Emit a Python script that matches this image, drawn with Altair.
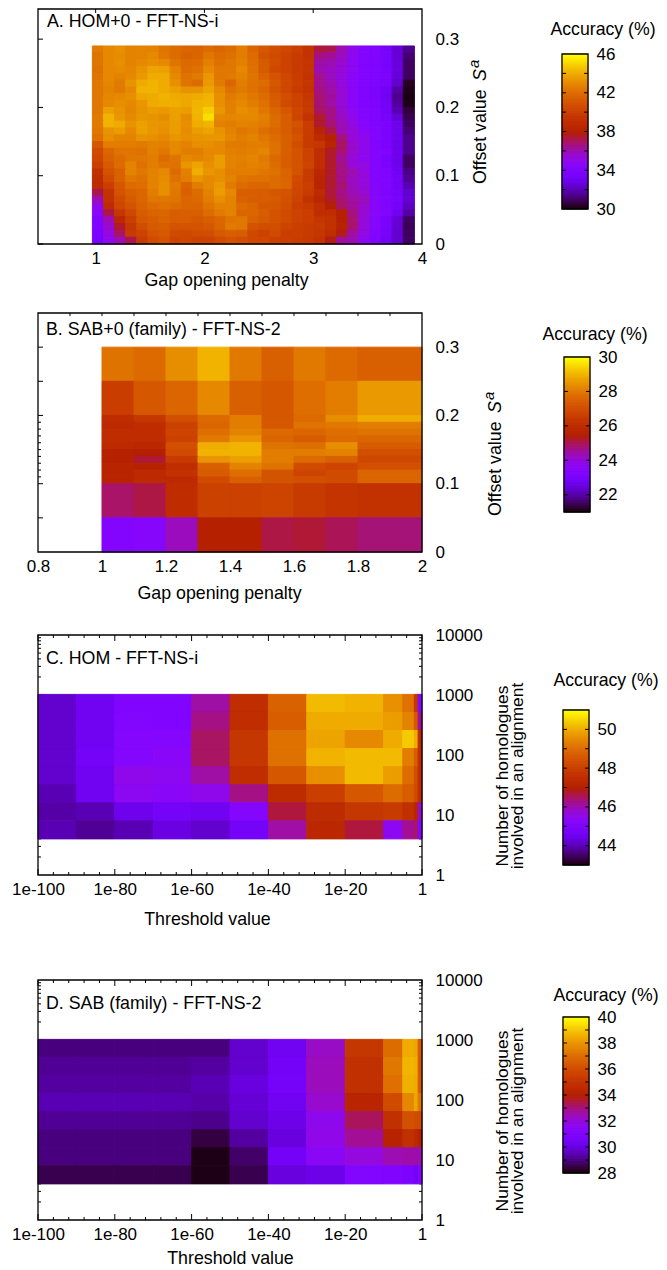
import math
import numpy as np
import pandas as pd
import altair as alt

FONT = "Liberation Sans"

# ---------- data ----------
A_rows = [
[42.5,43,43.2,42.8,42.8,42.8,42.3,42,41.8,41.7,42,41.8,42,42.6,41.8,41.2,40.8,40.4,40,39.4,37.4,37.2,36,35,34.3,34,33.5,32.5,31.5],
[42.3,43,43.1,42.8,42.8,43,42.4,42,41.6,41.7,42.4,42,42.2,42.6,42,41,40.6,40.2,39.8,39.4,36.6,36.4,35.8,34.8,34.2,34,33.6,32.6,31.2],
[42.3,43,43.2,42.8,43,43.2,43,42.3,41.9,42,42.7,42.2,42.4,42.7,42.1,41.3,40.8,40.2,39.8,39.5,36.2,36,35.6,34.8,34.2,34,33.7,32.7,31],
[42.2,43,43.1,42.9,43.3,43.8,43.7,42.8,42,42.2,43,42.4,42.4,43,42.2,41.3,40.5,40.2,39.8,39.5,36,35.8,35.4,34.8,34.2,34,33.7,32.7,31],
[42.3,43,42.8,43,43.5,44,44,43,42.2,42.5,43.4,42.4,42.5,42.8,42.3,41.6,41,40.4,39.9,39.4,36.5,35.8,35.3,34.6,34.2,34,33.8,32.6,31],
[42.4,42.9,42.5,43.3,44,44.2,44,43.2,42.3,42,43.5,42.5,41.8,42.6,42.2,42,41.2,40.5,40,39.5,36.5,36,35.3,34.6,34.1,33.9,33.6,32.4,30.4],
[42.4,42.8,42.5,43,44.2,44.2,44,43.7,43.3,43.3,43.8,43,42.2,42.5,42.2,41.8,41,40.4,39.8,39.4,36.6,36.2,35.5,34.6,34,33.8,33.3,31.8,30.2],
[42.4,42.9,43,43.2,43.9,44,44.2,44,43.9,44,44.2,43.2,42.5,42.8,42.4,42,41.3,40.8,40.2,39.6,36.8,36.3,35.5,34.6,34,33.8,33.2,31.5,30],
[42.4,43,43.2,43,43.4,44,44.1,44.1,43.9,44.2,44.3,43.2,42.7,43,42.6,42.2,41.4,40.6,40.2,39.7,36.8,36.2,35.5,34.6,34,33.9,33.4,31.7,30.2],
[42.4,43.7,43.3,42.9,43.3,43.6,43.5,43.7,43.6,44.3,44.9,43.4,42.7,43.2,43,42.4,41.8,41.2,40.4,39.8,37,36.6,35.6,34.8,34.2,34,33.4,32,30.6],
[42.5,44.2,43.4,43,43.4,43.3,43.1,43.7,43.1,44.2,45.3,43,42.9,43,43,42.7,42,41.4,40.3,39.4,37.6,36.6,35.8,35,34.3,34,33.5,32.6,30.8],
[42.5,44.2,44,43.3,43.7,43.4,43.3,43.6,43.2,44,44.2,42.7,42.6,42.8,42.7,42.5,42,41.4,41,39.9,37.6,36.8,36,35.2,34.4,34,33.8,33,31],
[42.4,43.3,43.6,43,43.7,43.4,43.2,43.6,43.1,43.6,43.8,43.3,42.8,42.4,42.6,42.1,41.8,41.4,40.8,39.9,38.4,37.3,36,35.4,34.6,34.2,33.8,33,31.2],
[42.2,43.2,42.8,42.8,43.3,43.2,43,43.4,43.2,43.3,43.4,43.4,42.9,42.6,42.8,42.4,42,41.5,41,39.8,38.8,38.2,36.7,35.4,35,34.3,33.8,33,31.5],
[41.2,42.6,42.6,42.6,42.5,42.8,42.7,43,42.8,43.2,43.2,43,42.5,42.5,42.6,42.6,42.2,41.5,40.8,39.8,39.6,38.5,37,35.6,35,34.3,33.8,33,31.5],
[40.6,41.8,42.3,42.3,42.2,42.7,42.4,43,42.6,42.6,43,43,42.7,42.6,42.7,42.9,42.2,41.5,41,40.2,39,37.6,36.8,35.6,35,34.3,34,33,31.5],
[40.4,41.6,42,42.4,42.4,42.6,42,42.3,43,42.8,43,43.6,42.8,42.7,42.9,42.5,41.9,41.4,41,40.2,39,37.6,36.4,35.4,34.9,34.3,33.7,33,31],
[40,41.3,42,42.8,42.2,42.6,42.3,42.2,43.4,43.8,43.2,43.6,42.8,42.6,42.8,42.6,42,41.4,41,40.3,39,37.6,36.6,35.4,35.2,34.3,33.8,33,31],
[39.2,41,41.6,42.8,42.4,42.8,43,42,42.7,44.1,43.4,43.2,42.6,42.6,42.6,42.4,42.2,41.7,41,39.8,38.6,37.6,36.6,36,35.3,34.3,34,33.2,31.4],
[38.9,40.6,41.6,42.4,42.2,42.8,43.1,42.2,42.6,43.4,43,43.2,42.8,42.3,42.2,42.2,42,41.7,40.6,39.8,38.4,37.5,36.6,35.8,35.4,34.3,34,33.4,31.6],
[38.8,40,41.2,42,42.1,42.8,43.2,42.5,41.7,42.6,43,43.5,42.5,42,41.8,41.8,42,41.8,40.5,40,38.4,37.5,36.8,35.8,35.4,34.5,34,33.4,32],
[37.2,39.4,41,41.6,41.8,42.6,43.2,42.4,41.6,42,42.8,43.6,43,41.5,41.4,41.4,41.2,41,40.4,39.8,38.8,37.4,36.6,36,35.6,34.4,33.9,33.5,32.4],
[36,39.3,40.6,41.3,41.8,42.4,42.4,42.3,41.8,41.9,42.6,43.2,42.8,41.6,41.4,41.4,41.3,40.9,40.2,39.3,38.5,37.6,36.8,36.2,35.9,34.5,34,33.6,32.5],
[35,38.8,40.4,41,41.6,42,42.2,42,41.8,41.7,42.3,42.8,42.8,42,41.7,41.2,41.2,40.8,40,39.7,39,38,37,36.4,35.6,34.5,34,33.4,32.2],
[34.6,37.3,39.6,40.5,41.4,41.7,41.8,41.4,41.5,41.5,42,42.5,42.8,41.8,41.8,41.4,41,40.6,40.2,40,39,39,38.2,36.6,35.5,34.6,34.2,33.2,31.8],
[34,36,38.6,40,41.2,41.4,41.7,41.4,41.4,41.2,41.5,41.8,42.3,42.4,41.6,41.3,41,40.6,40.2,40,39.5,39.3,38.2,36.8,35.4,34.4,33.6,32.5,31],
[34,35.6,37.6,39.6,40.8,41.3,41.4,41,41,41,41.2,41.7,42.5,42.4,41,40.8,40.8,40.3,40,39.8,39.7,39.3,38.3,36.8,35.4,34.5,33.6,32.5,30.9],
[33.8,35.3,37,39.8,40.2,41,41.3,40.6,40.5,40.7,40.8,41.3,41.5,41.4,40.5,40.2,40.6,40,40,39.8,39.6,39,37.8,36.2,35.2,34.3,33.5,32.4,31],
[33.6,35,36,37.2,39.8,40.6,41,40.3,40.4,40.2,40.2,40.6,41,40.8,40.5,40.4,40,40,39.9,39.7,39.4,37.8,36.3,36,34.8,34,33.3,32.4,31],
]
A_x_edges = [round(0.97 + i * 2.96 / 29, 4) for i in range(30)]
A_y_edges = [round(0.29 - i * 0.01, 2) for i in range(30)]

B_rows = [
[27.9,27.7,28.4,29.0,28.0,27.5,28.0,27.7,27.5],
[26.6,27.3,27.6,28.3,27.5,27.3,27.8,28.1,28.6],
[26.0,26.4,27.1,27.7,28.1,27.3,27.7,28.4,28.9],
[25.9,26.0,26.7,27.6,28.1,27.3,27.9,28.0,28.1],
[26.0,26.0,26.8,27.8,28.2,27.7,27.6,27.8,27.9],
[26.0,26.0,26.7,28.0,28.5,27.6,27.4,27.7,27.6],
[25.9,25.8,27.1,28.9,29.0,27.9,27.8,28.4,27.4],
[25.6,25.5,27.0,29.0,29.0,28.1,28.1,28.2,27.1],
[25.6,25.2,26.5,28.5,28.7,28.1,27.7,27.5,26.9],
[25.7,25.6,26.1,27.5,28.2,27.9,27.0,26.8,27.1],
[25.7,25.9,26.2,27.4,27.8,27.2,26.8,27.0,27.6],
[25.7,25.9,25.9,27.0,27.5,27.2,27.1,27.0,27.6],
[24.9,25.1,26.0,26.7,26.7,26.8,26.5,26.3,26.2],
[23.4,23.5,24.3,25.5,25.5,25.1,25.2,25.0,24.8],
]
B_x_edges = [1.0,1.1,1.2,1.3,1.4,1.5,1.6,1.7,1.8,2.0]
B_y_edges = [0.30,0.25,0.20,0.19,0.18,0.17,0.16,0.15,0.14,0.13,0.12,0.11,0.10,0.05,0.0]

C_rows = [
[44.2,44.6,45.0,45.0,46.1,47.5,48.8,50.2,50.1,49.6,49.1,47.8,45.2],
[44.2,44.6,45.1,45.0,46.3,47.5,48.7,50.0,50.0,49.8,49.4,48.6,46.2],
[44.2,44.6,45.2,45.2,46.5,47.8,49.1,49.9,49.5,50.0,50.4,50.0,47.4],
[44.2,44.7,45.2,45.3,46.5,47.8,49.1,50.1,50.2,50.2,49.3,48.7,47.5],
[44.2,44.6,45.5,45.4,46.1,47.5,48.6,49.6,50.2,49.8,49.0,48.4,47.5],
[44.0,44.6,45.4,45.3,45.5,46.3,47.4,48.0,48.6,49.0,48.7,48.3,47.5],
[43.9,44.0,44.5,44.7,44.6,45.2,46.7,47.4,47.8,47.9,47.6,47.2,45.8],
[44.0,43.8,44.0,44.4,44.2,44.7,46.1,47.3,46.7,45.4,46.2,46.5,45.0],
]
D_rows = [
[29.0,29.0,29.0,29.0,29.0,29.8,30.4,32.3,35.2,37.0,38.5,38.4,36.5],
[29.2,29.2,29.2,29.2,29.3,29.8,30.5,32.4,34.9,37.3,38.7,38.6,36.4],
[29.3,29.3,29.3,29.3,29.5,30.0,30.6,32.4,34.9,37.1,38.6,38.5,36.5],
[29.5,29.5,29.5,29.5,29.4,29.9,30.4,32.2,34.3,36.0,37.7,38.4,37.3],
[29.2,29.2,29.2,29.2,29.1,29.8,30.2,31.7,33.3,34.9,36.2,36.0,36.0],
[29.0,29.0,29.0,29.0,28.5,29.3,30.0,31.8,32.8,34.2,34.9,34.5,34.0],
[29.0,29.0,29.0,29.0,28.1,28.8,30.5,31.5,32.0,32.5,32.6,32.6,32.5],
[28.6,28.6,28.6,28.6,28.1,28.6,30.0,30.2,31.1,31.0,30.9,30.5,31.0],
]
thr_edges = [-100,-90,-80,-70,-60,-50,-40,-30,-20,-10,-5,-2,-1,0]
hom_edges = [1024,512,256,128,64,32,16,8,4]

WIDTH = 384
SIDE = 172          # second column (gap + colour bar)
ONE = pd.DataFrame({"a": [0]})


# gnuplot default pm3d palette (rgbformulae 7,5,15)
def palette(n=65):
    out = []
    for i in range(n):
        x = i / (n - 1)
        r = math.sqrt(x)
        g = x ** 3
        b = max(0.0, math.sin(2 * math.pi * x))
        out.append("#%02x%02x%02x" % (round(r * 255), round(g * 255), round(b * 255)))
    return out


PAL = palette()


def color_scale(lo, hi):
    return alt.Scale(domain=[float(d) for d in np.linspace(lo, hi, len(PAL))], range=PAL)


def cells(rows, xe, ye):
    rec = []
    for j, row in enumerate(rows):
        for i, v in enumerate(row):
            rec.append({"x0": xe[i], "x1": xe[i + 1], "y0": ye[j], "y1": ye[j + 1], "v": v})
    return pd.DataFrame(rec)


def text(s, x, y, size=17.8, **kw):
    return alt.Chart(ONE).mark_text(font=FONT, fontSize=size, color="black", **kw).encode(
        x=alt.value(x), y=alt.value(y), text=alt.value(s))


def vticks(vals, xs, xa, length, top=True, bottom=True, H=240):
    df = pd.DataFrame({"t": vals})
    out = []
    if top:
        out.append(alt.Chart(df).mark_rule(color="black", strokeWidth=1).encode(
            x=alt.X("t:Q", scale=xs, axis=xa), y=alt.value(0), y2=alt.value(length)))
    if bottom:
        out.append(alt.Chart(df).mark_rule(color="black", strokeWidth=1).encode(
            x=alt.X("t:Q", scale=xs, axis=xa), y=alt.value(H - length), y2=alt.value(H)))
    return out


def hticks(vals, ys, ya, length, left=True, right=True):
    df = pd.DataFrame({"t": vals})
    out = []
    if left:
        out.append(alt.Chart(df).mark_rule(color="black", strokeWidth=1).encode(
            y=alt.Y("t:Q", scale=ys, axis=ya), x=alt.value(0), x2=alt.value(length)))
    if right:
        out.append(alt.Chart(df).mark_rule(color="black", strokeWidth=1).encode(
            y=alt.Y("t:Q", scale=ys, axis=ya), x=alt.value(WIDTH - length), x2=alt.value(WIDTH)))
    return out


def panel(rows, xe, ye, lo, hi, xs, ys, xaxis, yaxis, H, ticks, labels):
    heat = alt.Chart(cells(rows, xe, ye)).mark_rect(strokeWidth=1).encode(
        x=alt.X("x0:Q", scale=xs, axis=xaxis),
        x2="x1:Q",
        y=alt.Y("y0:Q", scale=ys, axis=yaxis),
        y2="y1:Q",
        color=alt.Color("v:Q", scale=color_scale(lo, hi), legend=None),
        stroke=alt.Stroke("v:Q", scale=color_scale(lo, hi), legend=None),
    )
    frame = alt.Chart(ONE).mark_rect(fillOpacity=0, stroke="black", strokeWidth=1.3).encode(
        x=alt.value(0), x2=alt.value(WIDTH), y=alt.value(0), y2=alt.value(H))
    return alt.layer(*ticks, heat, frame, *labels).properties(width=WIDTH, height=H)


def bar(lo, hi, top, bottom, H, dx, tick_vals, label_vals, title_x, title_y, pad):
    s = (hi - lo) / (bottom - top)
    ys = alt.Scale(domain=[lo - (H - bottom) * s, hi + top * s], nice=False, zero=False)
    ya = alt.Axis(values=label_vals, orient="right", title=None, domain=False, ticks=False, grid=False,
                  labelPadding=pad, labelFontSize=17, format="d")
    levels = np.linspace(lo, hi, 129)
    df = pd.DataFrame({"a": levels[:-1], "b": levels[1:]})
    df["v"] = (df.a + df.b) / 2
    rects = alt.Chart(df).mark_rect(strokeWidth=1).encode(
        x=alt.value(140 + dx), x2=alt.value(166 + dx),
        y=alt.Y("a:Q", scale=ys, axis=ya),
        y2="b:Q",
        color=alt.Color("v:Q", scale=color_scale(lo, hi), legend=None),
        stroke=alt.Stroke("v:Q", scale=color_scale(lo, hi), legend=None),
    )
    tdf = pd.DataFrame({"t": tick_vals})
    t1 = alt.Chart(tdf).mark_rule(color="black", strokeWidth=1).encode(
        y=alt.Y("t:Q", scale=ys, axis=ya), x=alt.value(140 + dx), x2=alt.value(144 + dx))
    t2 = alt.Chart(tdf).mark_rule(color="black", strokeWidth=1).encode(
        y=alt.Y("t:Q", scale=ys, axis=ya), x=alt.value(162 + dx), x2=alt.value(166 + dx))
    fr = alt.Chart(pd.DataFrame({"l": [lo], "h": [hi]})).mark_rect(
        fillOpacity=0, stroke="black", strokeWidth=1.3).encode(
        x=alt.value(140 + dx), x2=alt.value(166 + dx),
        y=alt.Y("l:Q", scale=ys, axis=ya), y2="h:Q")
    ttl = text("Accuracy (%)", title_x, title_y, size=17.7, align="center", baseline="middle")
    return alt.layer(rects, t1, t2, fr, ttl).properties(width=SIDE, height=H)


def spacer(w, h):
    return alt.Chart(ONE).mark_point(opacity=0).encode(x=alt.value(0), y=alt.value(0)).properties(width=w, height=h)


def xax(values, title, tx, ty, **kw):
    return alt.Axis(values=values, title=title, titleX=tx, titleY=ty, titleBaseline="middle", titleAlign="center",
                    titleFontSize=17.8, titleFontWeight="normal", titleFont=FONT, domain=False, ticks=False,
                    grid=False, labelPadding=6, labelFontSize=17, labelFlush=False, labelOverlap=False, **kw)


def yax(values, **kw):
    return alt.Axis(values=values, orient="right", title=None, domain=False, ticks=False, grid=False,
                    labelPadding=13, labelFontSize=17, labelOverlap=False, **kw)


def offset_title(x, y):
    return [
        text("Offset value", x, y, angle=270, align="left", baseline="middle"),
        text("S", x, y - 103, angle=270, align="left", baseline="middle", fontStyle="italic"),
        text("a", x - 7, y - 116, size=15, angle=270, align="left", baseline="middle", fontStyle="italic"),
    ]


def hom_title(y):
    return [
        text("Number of homologues", 465, y, size=17.4, angle=270, align="center", baseline="middle"),
        text("involved in an alignment", 480, y, size=17.4, angle=270, align="center", baseline="middle"),
    ]


# ---------- panel A ----------
HA = 235
xsA = alt.Scale(domain=[0.47, 4], nice=False, zero=False)
ysA = alt.Scale(domain=[0, 0.35 * HA / 239], nice=False, zero=False)
xaA = xax([1, 2, 3, 4], "Gap opening penalty", 188, 36, format="~g")
yaA = yax([0, 0.1, 0.2, 0.3], format="~g")
A = panel(A_rows, A_x_edges, A_y_edges, 30, 46, xsA, ysA, xaA, yaA, HA,
          vticks([1, 2, 3], xsA, xaA, 4, bottom=False, H=HA) + hticks([0, 0.1, 0.2, 0.3], ysA, yaA, 5, right=False),
          [text("A. HOM+0 - FFT-NS-i", 9, 13, align="left", baseline="middle")] + offset_title(443, 175))
barA = bar(30, 46, 45, 200, HA, 0, [32, 34, 36, 38, 40, 42, 44], [30, 34, 38, 42, 46], 181, 21, 2)

# ---------- panel B ----------
HB = 239
xsB = alt.Scale(domain=[0.8, 2], nice=False, zero=False)
ysB = alt.Scale(domain=[0, 0.35], nice=False, zero=False)
xaB = xax([0.8, 1, 1.2, 1.4, 1.6, 1.8, 2], "Gap opening penalty", 181, 41, format="~g")
yaB = yax([0, 0.1, 0.2, 0.3], format="~g")
B = panel(B_rows, B_x_edges, B_y_edges, 21, 30, xsB, ysB, xaB, yaB, HB,
          vticks([0.9, 1, 1.1, 1.2, 1.3, 1.4, 1.5, 1.6, 1.7, 1.8, 1.9], xsB, xaB, 3, bottom=False, H=HB)
          + hticks([0.05, 0.1, 0.2, 0.25, 0.3], ysB, yaB, 5, right=False)
          + hticks([0.11, 0.12, 0.13, 0.14, 0.15, 0.16, 0.17, 0.18, 0.19], ysB, yaB, 3, right=False),
          [text("B. SAB+0 (family) - FFT-NS-2", 8, 17, align="left", baseline="middle")] + offset_title(458, 203))
barB = bar(21, 30, 44, 199, HB, 2, [22, 24, 26, 28], [22, 24, 26, 28, 30], 173, 22, 4)

# ---------- panels C, D ----------
HC = 240
xsC = alt.Scale(domain=[-100, 0], nice=False, zero=False)
ysC = alt.Scale(type="log", domain=[1, 10000], nice=False)
major_x = [-100, -80, -60, -40, -20, 0]
minor_x = [v for v in range(-96, 0, 4) if v % 20 != 0]
major_y = [10, 100, 1000]
minor_y = [m * d for d in [1, 10, 100, 1000] for m in [2, 3, 4, 5, 6, 7, 8, 9]]
LBL = "datum.value == 0 ? '1' : '1e' + datum.value"


def ticks_cd(xa, ya):
    return (vticks(major_x, xsC, xa, 6, H=HC) + vticks(minor_x, xsC, xa, 3, H=HC)
            + hticks(major_y, ysC, ya, 6) + hticks(minor_y, ysC, ya, 3))


xaC = xax(major_x, "Threshold value", 169, 44, labelExpr=LBL)
yaC = yax([1, 10, 100, 1000, 10000], format="d")
C = panel(C_rows, thr_edges, hom_edges, 43, 51, xsC, ysC, xaC, yaC, HC, ticks_cd(xaC, yaC),
          [text("C. HOM - FFT-NS-i", 8, 24, align="left", baseline="middle")] + hom_title(141))
barC = bar(43, 51, 75, 230, HC, 1, [44, 45, 46, 47, 48, 49, 50], [44, 46, 48, 50], 184, 46, 3)

xaD = xax(major_x, "Threshold value", 192, 38, labelExpr=LBL)
yaD = yax([1, 10, 100, 1000, 10000], format="d")
D = panel(D_rows, thr_edges, hom_edges, 28, 40, xsC, ysC, xaD, yaD, HC, ticks_cd(xaD, yaD),
          [text("D. SAB (family) - FFT-NS-2", 8, 24, align="left", baseline="middle")] + hom_title(141))
barD = bar(28, 40, 37, 193, HC, 1, [29, 30, 31, 32, 33, 34, 35, 36, 37, 38, 39], [28, 30, 32, 34, 36, 38, 40], 184, 16, 3)

grid = [
    A, barA,
    spacer(WIDTH, 69), spacer(SIDE, 69),
    B, barB,
    spacer(WIDTH, 83), spacer(SIDE, 83),
    C, barC,
    spacer(WIDTH, 105), spacer(SIDE, 105),
    D, barD,
]

chart = (
    alt.concat(*grid, columns=2, spacing=0, bounds="flush")
    .resolve_scale(color="independent", stroke="independent")
    .properties(padding={"left": 3, "top": 0, "right": 0, "bottom": 0})
    .configure_view(stroke=None)
    .configure_axis(labelFont=FONT, labelColor="black", titleColor="black")
)

chart.save("out.html", embed_options={"renderer": "svg", "actions": False})
